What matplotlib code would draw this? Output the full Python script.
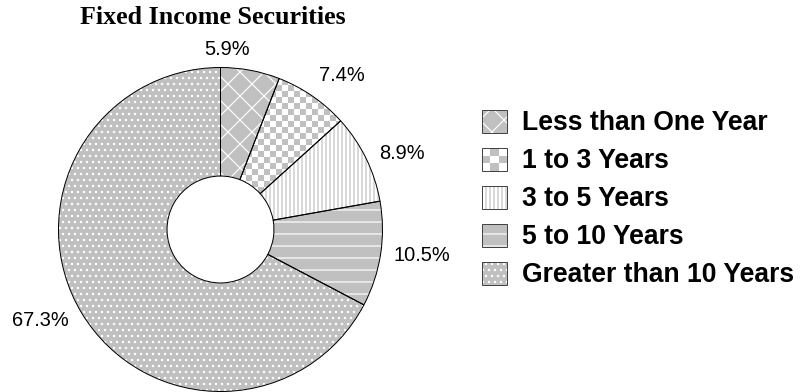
import matplotlib.pyplot as plt
import numpy as np
from matplotlib.patches import Rectangle

title = "Fixed Income Securities"
categories = ["Less than One Year", "1 to 3 Years", "3 to 5 Years",
              "5 to 10 Years", "Greater than 10 Years"]
shares = [5.9, 7.4, 8.9, 10.5, 67.3]

GRAY = "#c0c0c0"
# face colour, hatch colour, hatch for each slice
styles = [
    (GRAY, "white", "x"),
    ("white", "white", None),   # checkerboard, drawn as an image
    ("white", GRAY, "|||"),
    (GRAY, "white", "-"),
    (GRAY, "white", ".."),
]
# percentage label spots, in pie units (radius 1)
label_xy = [(0.04, 1.11), (0.75, 0.95), (1.12, 0.47), (1.24, -0.16), (-1.11, -0.56)]

DPI = 72
W, H = 809, 392
plt.rcParams["font.family"] = ["Liberation Sans", "DejaVu Sans"]
plt.rcParams["hatch.linewidth"] = 1.2


def checker(n):
    board = np.add.outer(np.arange(n), np.arange(n)) % 2
    return np.where(board[..., None] == 1, 192 / 255, 1.0) * np.ones(3)


fig = plt.figure(figsize=(W / DPI, H / DPI), dpi=DPI)

# donut centre / radius in pixels (y from top)
cx, cy, R = 220.5, 229.5, 162
ax = fig.add_axes([(cx - R) / W, (H - cy - R) / H, 2 * R / W, 2 * R / H])

wedges, _ = ax.pie(shares, startangle=90, counterclock=False, radius=1,
                   wedgeprops=dict(width=0.67, linewidth=0))
for w, (fc, hc, hatch) in zip(wedges, styles):
    w.set_facecolor(fc)
    w.set_edgecolor(hc)
    w.set_hatch(hatch)
    w.set_linewidth(0)

im = ax.imshow(checker(54), extent=(-1, 1, -1, 1), interpolation="nearest", zorder=1.5)
im.set_clip_path(wedges[1])

outline, _ = ax.pie(shares, startangle=90, counterclock=False, radius=1,
                    wedgeprops=dict(width=0.67, fill=False, edgecolor="black", linewidth=1))
for w in outline:
    w.set_zorder(3)
    w.set_clip_on(False)

for (x, y), v in zip(label_xy, shares):
    ax.text(x, y, f"{v}%", ha="center", va="center", fontsize=20, clip_on=False)

ax.set_xlim(-1, 1)
ax.set_ylim(-1, 1)
ax.set_aspect("equal")
ax.axis("off")

fig.text(213 / W, 1 - 17 / H, title, ha="center", va="center",
         family=["Liberation Serif"], weight="bold", fontsize=26)

# legend drawn by hand so the checkerboard shows
for i, (name, (fc, hc, hatch)) in enumerate(zip(categories, styles)):
    top = 110 + 38 * i
    lax = fig.add_axes([482 / W, (H - top - 23) / H, 25 / W, 23 / H])
    lax.set_xlim(0, 1)
    lax.set_ylim(0, 1)
    lax.axis("off")
    lax.add_patch(Rectangle((0, 0), 1, 1, facecolor=fc, edgecolor=hc, hatch=hatch, linewidth=0))
    if i == 1:
        lax.imshow(checker(3), extent=(0, 1, 0, 1), aspect="auto",
                   interpolation="nearest", zorder=1.5)
    lax.add_patch(Rectangle((0, 0), 1, 1, fill=False, edgecolor="#444444",
                            linewidth=1, clip_on=False, zorder=3))
    fig.text(522 / W, 1 - (top + 13) / H, name, fontsize=26.5, weight="bold", va="center")

fig.savefig("out.png", dpi=DPI)
